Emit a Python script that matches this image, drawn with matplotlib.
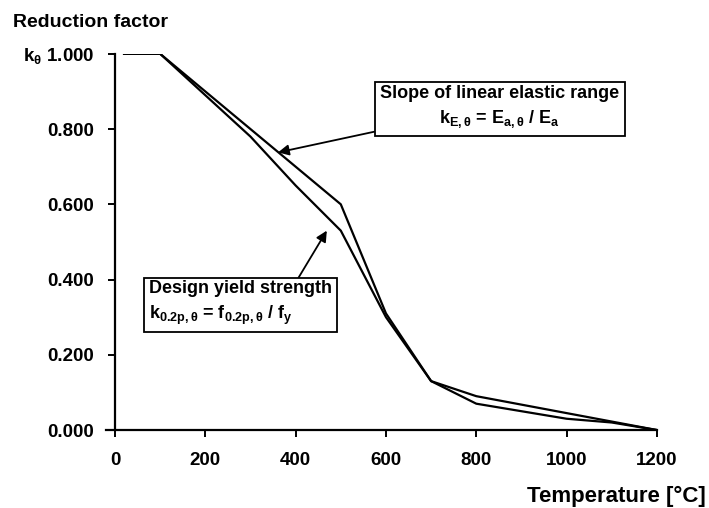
import numpy as np
import matplotlib
matplotlib.use('Agg')
import matplotlib.pyplot as plt

plt.rcParams['font.family'] = ['Liberation Sans', 'DejaVu Sans']
plt.rcParams['font.weight'] = 'bold'
plt.rcParams['mathtext.fontset'] = 'custom'
plt.rcParams['mathtext.rm'] = 'Liberation Sans:bold'
plt.rcParams['mathtext.it'] = 'Liberation Sans:bold'
plt.rcParams['mathtext.bf'] = 'Liberation Sans:bold'

# Reduction factors (EN 1993-1-2 style table)
temperature = [20, 100, 200, 300, 400, 500, 600, 700, 800, 900, 1000, 1100, 1200]
k_E = [1.00, 1.00, 0.90, 0.80, 0.70, 0.60, 0.31, 0.13, 0.09, 0.0675, 0.045, 0.0225, 0.0]
k_02p = [1.00, 1.00, 0.89, 0.78, 0.65, 0.53, 0.30, 0.13, 0.07, 0.05, 0.03, 0.02, 0.0]

x_ticks = [0, 200, 400, 600, 800, 1000, 1200]
y_ticks = [0.0, 0.2, 0.4, 0.6, 0.8, 1.0]
y_labels = ['0.000', '0.200', '0.400', '0.600', '0.800', r'k$_\theta$ 1.000']

fig = plt.figure(figsize=(7.09, 5.08), dpi=100)
ax = fig.add_axes([0.1495, 0.1535, 0.777, 0.7405])

ax.plot(temperature, k_E, color='black', lw=1.6)
ax.plot(temperature, k_02p, color='black', lw=1.6)

ax.set_xlim(-20, 1200)
ax.set_ylim(0, 1.0)
ax.spines['top'].set_visible(False)
ax.spines['right'].set_visible(False)
ax.spines['left'].set_position(('data', 0))
ax.spines['left'].set_linewidth(1.6)
ax.spines['bottom'].set_linewidth(1.6)
ax.set_xticks(x_ticks)
ax.set_yticks(y_ticks)
ax.set_yticklabels(y_labels)
ax.tick_params(axis='both', direction='out', length=5, width=1.4, labelsize=13.5)
ax.tick_params(axis='x', pad=11)
ax.tick_params(axis='y', pad=10)
for lbl in ax.get_xticklabels() + ax.get_yticklabels():
    lbl.set_fontweight('bold')

fig.text(0.018, 0.955, 'Reduction factor', fontsize=14, fontweight='bold', va='center')
fig.text(0.995, 0.022, 'Temperature [°C]', fontsize=16, fontweight='bold', ha='right', va='center')

box = dict(boxstyle='square,pad=0.3', fc='white', ec='black', lw=1.3)
ax.annotate('Slope of linear elastic range\n' + r'k$_{E,\theta}$ = E$_{a,\theta}$ / E$_a$',
            xy=(361, 0.738), xytext=(852, 0.857), textcoords='data',
            ha='center', va='center', fontsize=13, fontweight='bold',
            bbox=box, multialignment='center', linespacing=1.45,
            arrowprops=dict(arrowstyle='-|>', color='black', lw=1.3,
                            mutation_scale=16, shrinkA=0, shrinkB=0,
                            relpos=(0, 0)))
ax.annotate('Design yield strength\n' + r'k$_{0.2p,\theta}$ = f$_{0.2p,\theta}$ / f$_y$',
            xy=(469, 0.53), xytext=(278, 0.337), textcoords='data',
            ha='center', va='center', fontsize=13, fontweight='bold',
            bbox=box, multialignment='left', linespacing=1.45,
            arrowprops=dict(arrowstyle='-|>', color='black', lw=1.3,
                            mutation_scale=16, shrinkA=0, shrinkB=0,
                            relpos=(0.81, 1)))

fig.savefig('out.png', dpi=100)
